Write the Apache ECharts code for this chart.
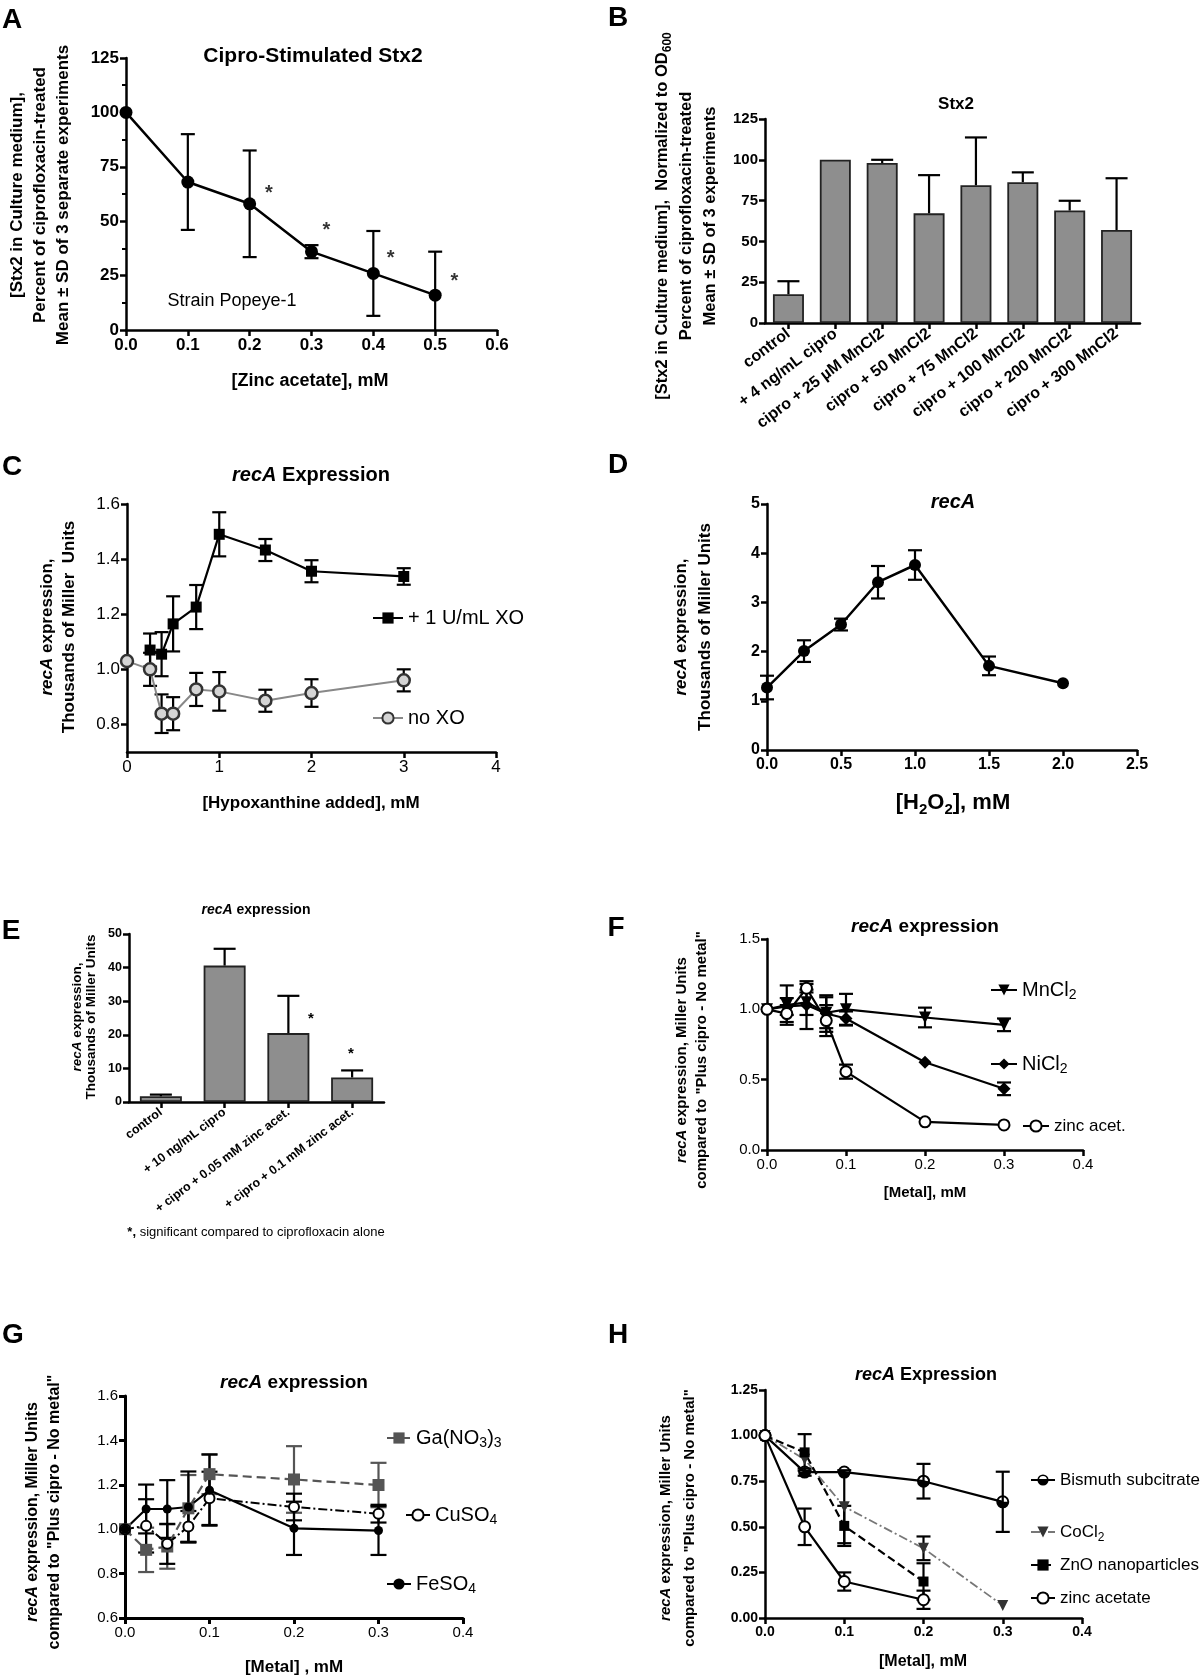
<!DOCTYPE html>
<html>
<head>
<meta charset="utf-8">
<script src="https://cdn.jsdelivr.net/npm/echarts@6/dist/echarts.min.js"></script>
<style>html,body{margin:0;padding:0;background:#fff}#chart{width:1200px;height:1677px}</style>
</head>
<body>
<div id="chart"></div>
<script>
// panel A - Stx2 vs zinc acetate
const aZinc = [0, 0.1, 0.2, 0.3, 0.4, 0.5]
const aStx2 = [100, 68, 58, 36, 26, 16]
const aSd = [0, 22, 24.5, 3, 19.5, 20]
const aStarX = [0.231, 0.324, 0.428, 0.531]
const aStarY = [65, 48, 35, 24.5]

// panel B - Stx2 with MnCl2
const bGroups = ['control', '+ 4 ng/mL cipro', 'cipro + 25 µM MnCl2', 'cipro + 50 MnCl2',
    'cipro + 75 MnCl2', 'cipro + 100 MnCl2', 'cipro + 200 MnCl2', 'cipro + 300 MnCl2']
const bStx2 = [17.6, 100, 98, 67.2, 84.4, 86.3, 68.9, 57]
const bSd = [8, 0, 2, 23.4, 29.3, 6, 6, 31.7]

// panel C - hypoxanthine
const cHypo = [0, 0.25, 0.375, 0.5, 0.75, 1, 1.5, 2, 3]
const cXoHypo = [0.25, 0.375, 0.5, 0.75, 1, 1.5, 2, 3]
const cXo = [1.07, 1.055, 1.165, 1.226, 1.49, 1.433, 1.356, 1.337]
const cXoSd = [0.06, 0.08, 0.1, 0.08, 0.08, 0.04, 0.04, 0.03]
const cNoXo = [1.03, 1.0, 0.839, 0.839, 0.927, 0.92, 0.886, 0.914, 0.96]
const cNoXoSd = [0, 0.06, 0.07, 0.06, 0.06, 0.07, 0.04, 0.05, 0.04]

// panel D - H2O2
const dH2o2 = [0, 0.25, 0.5, 0.75, 1, 1.5, 2]
const dRecA = [1.27, 2.01, 2.55, 3.41, 3.76, 1.71, 1.355]
const dSd = [0.24, 0.22, 0.12, 0.33, 0.3, 0.19, 0]

// panel E - recA bars
const eGroups = ['control', '+ 10 ng/mL cipro', '+ cipro + 0.05 mM zinc acet.', '+ cipro + 0.1 mM zinc acet.']
const eRecA = [1.7, 40.6, 20.5, 7.3]
const eSd = [0.5, 5, 11.1, 2.1]

// panel F
const fMetal = [0, 0.025, 0.05, 0.075, 0.1, 0.2, 0.3]
const fMn = [1.0, 1.03, 1.05, 0.976, 1.0, 0.942, 0.89]
const fMnSd = [0, 0.14, 0.09, 0.11, 0.11, 0.07, 0.045]
const fNi = [1.0, 1.02, 1.03, 0.97, 0.935, 0.624, 0.435]
const fNiSd = [0, 0.06, 0.17, 0.13, 0.05, 0, 0.045]
const fZn = [1.0, 0.97, 1.15, 0.92, 0.557, 0.2, 0.178]
const fZnSd = [0, 0.06, 0.03, 0.11, 0.05, 0, 0]

// panel G
const gMetal = [0, 0.025, 0.05, 0.075, 0.1, 0.2, 0.3]
const gGa = [1.0, 0.907, 0.922, 1.094, 1.248, 1.224, 1.199]
const gGaSd = [0, 0.1, 0.1, 0.15, 0.09, 0.15, 0.1]
const gCu = [1.0, 1.015, 0.934, 1.012, 1.139, 1.1, 1.07]
const gCuSd = [0, 0.12, 0.09, 0.07, 0.12, 0.06, 0.04]
const gFe = [1.0, 1.091, 1.091, 1.1, 1.176, 1.004, 0.994]
const gFeSd = [0, 0.11, 0.13, 0.16, 0.16, 0.12, 0.11]

// panel H
const hBiX = [0, 0.05, 0.1, 0.2, 0.3]
const hBi = [1.0, 0.8, 0.8, 0.75, 0.637]
const hBiSd = [0, 0.02, 0, 0.095, 0.165]
const hCoX = [0, 0.05, 0.1, 0.2, 0.3]
const hCo = [1.0, 0.87, 0.61, 0.382, 0.069]
const hCoSd = [0, 0, 0.2, 0.065, 0]
const hZnoX = [0, 0.05, 0.1, 0.2]
const hZno = [1.0, 0.908, 0.505, 0.2]
const hZnoSd = [0, 0.1, 0.11, 0.1]
const hZnX = [0, 0.05, 0.1, 0.2]
const hZn = [1.0, 0.5, 0.2, 0.1]
const hZnSd = [0, 0.1, 0.05, 0.05]

const FONT = '"Liberation Sans", Arial, Helvetica, sans-serif'
const HALF_CIRCLE = 'path://M0,-10 A10,10 0 1,1 0,10 A10,10 0 1,1 0,-10 Z M7,0 A7,7 0 0,0 -7,0 Z'

const grids = [
    { left: 126, top: 58, width: 371, height: 272 },   // A
    { left: 765, top: 119, width: 375, height: 204 },  // B
    { left: 127, top: 504, width: 369, height: 248 },  // C
    { left: 767, top: 504, width: 370, height: 246 },  // D
    { left: 129, top: 934, width: 255, height: 168 },  // E
    { left: 767, top: 939, width: 316, height: 211 },  // F
    { left: 125, top: 1396, width: 338, height: 222 }, // G
    { left: 765, top: 1390, width: 317, height: 228 }  // H
].map(g => Object.assign({ containLabel: false, outerBoundsMode: 'none' }, g))

function axisLine (w) { return { show: true, onZero: false, lineStyle: { color: '#000', width: w || 2.5 } } }
function axisTick (w) { return { show: true, length: 6, lineStyle: { color: '#000', width: w || 2.5 } } }

function valueAxis (gi, min, max, interval, fontSize, weight, digits, extra) {
    extra = extra || {}
    const ax = {
        type: 'value', gridIndex: gi, min: min, max: max,
        axisLine: axisLine(extra.lineWidth), axisTick: axisTick(extra.lineWidth), splitLine: { show: false },
        axisLabel: {
            color: '#000', fontFamily: FONT, fontSize: fontSize, fontWeight: weight, margin: 7,
            formatter: v => v.toFixed(digits)
        }
    }
    if (interval) ax.interval = interval
    if (extra.axisLabel) Object.assign(ax.axisLabel, extra.axisLabel)
    if (extra.minorTick) ax.minorTick = extra.minorTick
    if (extra.splitNumber) ax.splitNumber = extra.splitNumber
    return ax
}

function catAxis (gi, cats, fontSize) {
    return {
        type: 'category', gridIndex: gi, data: cats,
        axisLine: axisLine(),
        axisTick: Object.assign({ alignWithLabel: true }, axisTick()),
        axisLabel: { interval: 0, rotate: 37, color: '#000', fontFamily: FONT, fontSize: fontSize, fontWeight: 'bold', margin: 9 }
    }
}

const xAxes = [
    valueAxis(0, 0, 0.6, 0.1, 17, 'bold', 1),
    catAxis(1, bGroups, 16),
    valueAxis(2, 0, 4, 1, 17, 'normal', 0),
    valueAxis(3, 0, 2.5, 0.5, 16, 'bold', 1),
    catAxis(4, eGroups, 12.5),
    valueAxis(5, 0, 0.4, 0.1, 15, 'normal', 1),
    valueAxis(6, 0, 0.4, 0.1, 15, 'normal', 1, { lineWidth: 3 }),
    valueAxis(7, 0, 0.4, 0.1, 14, 'bold', 1)
]

const yAxes = [
    valueAxis(0, 0, 125, 25, 17, 'bold', 0, {
        minorTick: { show: true, splitNumber: 2, length: 4, lineStyle: { color: '#000', width: 2 } }
    }),
    valueAxis(1, 0, 125, 25, 15, 'bold', 0),
    valueAxis(2, 0.7, 1.6, null, 17, 'normal', 1, { splitNumber: 5, axisLabel: { showMinLabel: false } }),
    valueAxis(3, 0, 5, 1, 16, 'bold', 0),
    valueAxis(4, 0, 50, 10, 12.5, 'bold', 0),
    valueAxis(5, 0, 1.5, 0.5, 15, 'normal', 1),
    valueAxis(6, 0.6, 1.6, 0.2, 15, 'normal', 1, { lineWidth: 3 }),
    valueAxis(7, 0, 1.25, 0.25, 14, 'bold', 2)
]

const pair = (xs, ys) => xs.map((x, i) => [x, ys[i]])

function lineSeries (name, gi, xs, ys, opts) {
    return Object.assign({
        name: name, type: 'line', xAxisIndex: gi, yAxisIndex: gi,
        data: pair(xs, ys), symbol: 'circle', symbolSize: 11,
        lineStyle: { color: '#000', width: 2.2 }, itemStyle: { color: '#000' },
        z: 3, silent: true, animation: false
    }, opts || {})
}

// error bars: vertical line with caps, drawn through the axis scales
function errSeries (gi, xs, ys, sd, cap, color, upOnly, floor) {
    const data = []
    xs.forEach((x, i) => {
        if (sd[i] > 0) data.push([x, upOnly ? ys[i] : ys[i] - sd[i], ys[i] + sd[i]])
    })
    return {
        type: 'custom', xAxisIndex: gi, yAxisIndex: gi, z: 2, silent: true, animation: false,
        data: data,
        renderItem: (params, api) => {
            let lo = api.value(1)
            const hi = api.value(2)
            let lowCap = !upOnly
            if (floor !== undefined && lo < floor) { lo = floor; lowCap = false }
            const p0 = api.coord([api.value(0), lo])
            const p1 = api.coord([api.value(0), hi])
            const style = { stroke: color, lineWidth: 2.2 }
            const kids = [
                { type: 'line', shape: { x1: p0[0], y1: p0[1], x2: p1[0], y2: p1[1] }, style: style },
                { type: 'line', shape: { x1: p1[0] - cap, y1: p1[1], x2: p1[0] + cap, y2: p1[1] }, style: style }
            ]
            if (lowCap) kids.push({ type: 'line', shape: { x1: p0[0] - cap, y1: p0[1], x2: p0[0] + cap, y2: p0[1] }, style: style })
            return { type: 'group', children: kids }
        }
    }
}

function barSeries (gi, vals, width) {
    return {
        type: 'bar', xAxisIndex: gi, yAxisIndex: gi, data: vals, barWidth: width,
        itemStyle: { color: '#8e8e8e', borderColor: '#222', borderWidth: 1.8 },
        silent: true, animation: false, z: 1
    }
}

const series = [
    // A
    errSeries(0, aZinc, aStx2, aSd, 7, '#000', false, 0),
    lineSeries('Stx2', 0, aZinc, aStx2, { symbolSize: 13, lineStyle: { color: '#000', width: 2.5 } }),
    {
        type: 'scatter', xAxisIndex: 0, yAxisIndex: 0, data: pair(aStarX, aStarY), symbolSize: 1,
        itemStyle: { color: 'rgba(0,0,0,0)' }, silent: true, animation: false,
        label: { show: true, position: 'inside', formatter: '*', offset: [0, 5], color: '#000', fontSize: 20, fontWeight: 'bold', fontFamily: FONT }
    },
    // B
    barSeries(1, bStx2, 31),
    errSeries(1, bStx2.map((v, i) => i), bStx2, bSd, 11, '#000', true),
    // C
    errSeries(2, cXoHypo, cXo, cXoSd, 7, '#000'),
    errSeries(2, cHypo, cNoXo, cNoXoSd, 7, '#000'),
    lineSeries('+ 1 U/mL XO', 2, cXoHypo, cXo, { symbol: 'rect', symbolSize: 11 }),
    lineSeries('no XO', 2, cHypo, cNoXo, {
        symbolSize: 12, lineStyle: { color: '#888', width: 2 },
        itemStyle: { color: '#d4d4d4', borderColor: '#333', borderWidth: 2.5 }
    }),
    // D
    errSeries(3, dH2o2, dRecA, dSd, 7, '#000'),
    lineSeries('recA', 3, dH2o2, dRecA, { symbolSize: 12, lineStyle: { color: '#000', width: 2.5 } }),
    // E
    barSeries(4, eRecA, 42),
    errSeries(4, eRecA.map((v, i) => i), eRecA, eSd, 11, '#000', true),
    // F
    errSeries(5, fMetal, fMn, fMnSd, 7, '#000'),
    errSeries(5, fMetal, fNi, fNiSd, 7, '#000'),
    errSeries(5, fMetal, fZn, fZnSd, 7, '#000'),
    lineSeries('MnCl₂', 5, fMetal, fMn, { symbol: 'triangle', symbolRotate: 180, symbolSize: 12 }),
    lineSeries('NiCl₂', 5, fMetal, fNi, { symbol: 'diamond', symbolSize: 13 }),
    lineSeries('zinc acet.', 5, fMetal, fZn, {
        symbol: 'circle', symbolSize: 11, itemStyle: { color: '#fff', borderColor: '#000', borderWidth: 2 }
    }),
    // G
    errSeries(6, gMetal, gGa, gGaSd, 8, '#555'),
    errSeries(6, gMetal, gCu, gCuSd, 8, '#000'),
    errSeries(6, gMetal, gFe, gFeSd, 8, '#000'),
    lineSeries('Ga(NO₃)₃', 6, gMetal, gGa, {
        symbol: 'rect', symbolSize: 12, lineStyle: { color: '#555', width: 2.2, type: [9, 5] }, itemStyle: { color: '#555' }
    }),
    lineSeries('CuSO₄', 6, gMetal, gCu, {
        symbolSize: 10, lineStyle: { color: '#000', width: 2, type: [9, 3, 2, 3] },
        itemStyle: { color: '#fff', borderColor: '#000', borderWidth: 2 }
    }),
    lineSeries('FeSO₄', 6, gMetal, gFe, { symbolSize: 9 }),
    // H
    errSeries(7, hBiX, hBi, hBiSd, 7, '#000'),
    errSeries(7, hCoX, hCo, hCoSd, 7, '#000'),
    errSeries(7, hZnoX, hZno, hZnoSd, 7, '#000'),
    errSeries(7, hZnX, hZn, hZnSd, 7, '#000'),
    lineSeries('Bismuth subcitrate', 7, hBiX, hBi, { symbol: HALF_CIRCLE, symbolSize: 13 }),
    lineSeries('CoCl₂', 7, hCoX, hCo, {
        symbol: 'triangle', symbolRotate: 180, symbolSize: 11,
        lineStyle: { color: '#777', width: 1.8, type: [9, 3, 2, 3] }, itemStyle: { color: '#333' }
    }),
    lineSeries('ZnO nanoparticles', 7, hZnoX, hZno, {
        symbol: 'rect', symbolSize: 10, lineStyle: { color: '#000', width: 2.2, type: [8, 4] }
    }),
    lineSeries('zinc acetate', 7, hZnX, hZn, {
        symbolSize: 11, itemStyle: { color: '#fff', borderColor: '#000', borderWidth: 2 }
    })
]

// subscript digits become a rich-text token that sits lower and smaller
const SUBS = '₀₁₂₃₄₅₆₇₈₉'
function toRich (s) {
    return s.replace(/[₀-₉]+/g, m => '{s|' + m.split('').map(c => SUBS.indexOf(c)).join('') + '}')
}
function subStyle (size, weight) {
    return { fontSize: Math.round(size * 0.7), fontWeight: weight, fontFamily: FONT, color: '#000', verticalAlign: 'bottom', lineHeight: Math.round(size * 0.6) }
}

function legendItem (name, left, cy, w, fs) {
    return {
        data: [name], left: left, top: cy - 12, itemWidth: w, itemHeight: 14, padding: 0,
        selectedMode: false, formatter: n => toRich(n),
        textStyle: { fontSize: fs, fontFamily: FONT, color: '#000', lineHeight: 24, rich: { s: subStyle(fs, 'normal') } }
    }
}

const legends = [
    legendItem('+ 1 U/mL XO', 372, 618, 30, 20),
    legendItem('no XO', 372, 718, 30, 20),
    legendItem('MnCl₂', 990, 990, 26, 20),
    legendItem('NiCl₂', 990, 1064, 26, 20),
    legendItem('zinc acet.', 1022, 1126, 26, 17),
    legendItem('Ga(NO₃)₃', 386, 1438, 24, 20),
    legendItem('CuSO₄', 405, 1515, 24, 20),
    legendItem('FeSO₄', 386, 1584, 24, 20),
    legendItem('Bismuth subcitrate', 1030, 1480, 24, 17),
    legendItem('CoCl₂', 1030, 1532, 24, 17),
    legendItem('ZnO nanoparticles', 1030, 1565, 24, 17),
    legendItem('zinc acetate', 1030, 1598, 24, 17)
]

function txt (x, y, text, size, weight, extra) {
    extra = extra || {}
    const lh = extra.lineHeight || Math.round(size * 1.25)
    const style = {
        text: toRich(text), x: 0, y: 0, fill: '#000', fontFamily: FONT, fontSize: size, fontWeight: weight,
        textAlign: 'center', textVerticalAlign: 'middle', lineHeight: lh,
        rich: {
            i: { fontStyle: 'italic', fontWeight: 'bold', fontSize: size, fontFamily: FONT, lineHeight: lh },
            b: { fontWeight: 'bold', fontSize: size, fontFamily: FONT, lineHeight: lh },
            s: subStyle(size, weight)
        }
    }
    const el = { type: 'text', x: x, y: y, style: style, silent: true }
    if (extra.rotate) el.rotation = Math.PI / 2
    return el
}

const graphics = [
    // panel letters
    txt(12, 20, 'A', 28, 'bold'), txt(618, 18, 'B', 28, 'bold'),
    txt(12, 467, 'C', 28, 'bold'), txt(618, 465, 'D', 28, 'bold'),
    txt(11, 931, 'E', 28, 'bold'), txt(616, 928, 'F', 28, 'bold'),
    txt(13, 1335, 'G', 28, 'bold'), txt(618, 1335, 'H', 28, 'bold'),
    // titles
    txt(313, 56, 'Cipro-Stimulated Stx2', 21, 'bold'),
    txt(956, 104, 'Stx2', 17, 'bold'),
    txt(311, 475, '{i|recA} Expression', 20, 'bold'),
    txt(953, 502, '{i|recA}', 20, 'bold'),
    txt(256, 910, '{i|recA} expression', 14, 'bold'),
    txt(925, 927, '{i|recA} expression', 19, 'bold'),
    txt(294, 1383, '{i|recA} expression', 19, 'bold'),
    txt(926, 1375, '{i|recA} Expression', 18, 'bold'),
    // y axis titles
    txt(40, 195, '[Stx2 in Culture medium],\nPercent of ciprofloxacin-treated\nMean ± SD of 3 separate experiments', 17, 'bold', { rotate: true, lineHeight: 23 }),
    txt(686, 216, '[Stx2 in Culture medium],  Normalized to OD₆₀₀\nPercent of ciprofloxacin-treated\nMean ± SD of 3 experiments', 16.5, 'bold', { rotate: true, lineHeight: 24 }),
    txt(58, 627, '{i|recA} expression,\nThousands of Miller  Units', 17, 'bold', { rotate: true, lineHeight: 22 }),
    txt(693, 627, '{i|recA} expression,\nThousands of Miller Units', 17, 'bold', { rotate: true, lineHeight: 24 }),
    txt(84, 1017, '{i|recA} expression,\nThousands of Miller Units', 13.5, 'bold', { rotate: true, lineHeight: 14 }),
    txt(692, 1060, '{i|recA} expression, Miller Units\ncompared to "Plus cipro - No metal"', 15, 'bold', { rotate: true, lineHeight: 20 }),
    txt(44, 1512, '{i|recA} expression, Miller Units\ncompared to "Plus cipro - No metal"', 16, 'bold', { rotate: true, lineHeight: 22 }),
    txt(678, 1518, '{i|recA} expression, Miller Units\ncompared to "Plus cipro - No metal"', 15, 'bold', { rotate: true, lineHeight: 24 }),
    // x axis titles
    txt(310, 381, '[Zinc acetate], mM', 18, 'bold'),
    txt(311, 803, '[Hypoxanthine added], mM', 17, 'bold'),
    txt(953, 803, '[H₂O₂], mM', 22, 'bold'),
    txt(925, 1193, '[Metal], mM', 15, 'bold'),
    txt(294, 1667, '[Metal] , mM', 17, 'bold'),
    txt(923, 1662, '[Metal], mM', 16, 'bold'),
    // notes
    txt(232, 301, 'Strain Popeye-1', 18, 'normal'),
    txt(311, 1019, '*', 15, 'bold'),
    txt(351, 1054, '*', 15, 'bold'),
    txt(256, 1232, '{b|*,} significant compared to ciprofloxacin alone', 13, 'normal')
]

const myChart = echarts.init(document.getElementById('chart'), null, { renderer: 'canvas' })
myChart.setOption({
    animation: false,
    backgroundColor: '#fff',
    textStyle: { fontFamily: FONT },
    grid: grids,
    xAxis: xAxes,
    yAxis: yAxes,
    legend: legends,
    series: series,
    graphic: graphics
})
</script>
</body>
</html>
